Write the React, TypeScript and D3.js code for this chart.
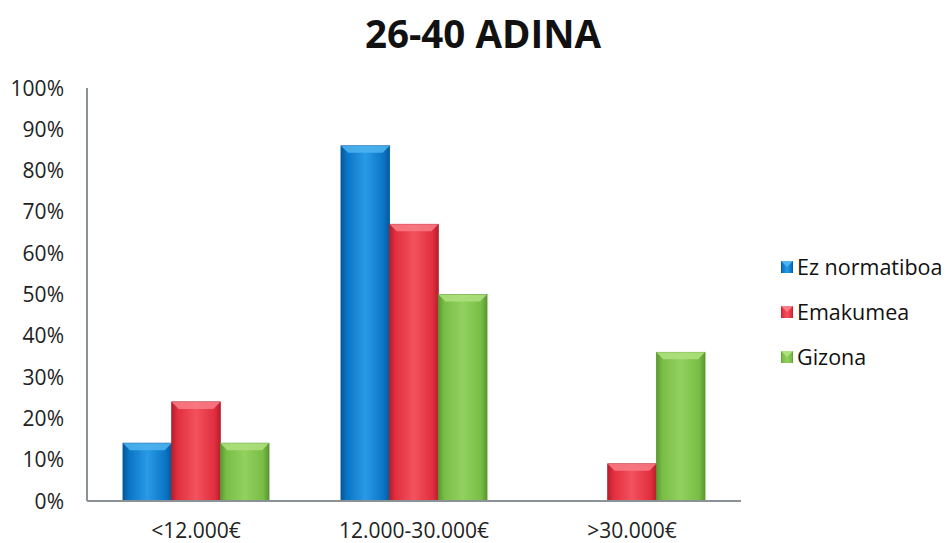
import React from "react";
import * as d3 from "d3";

const categories = ["<12.000€", "12.000-30.000€", ">30.000€"];
const seriesNames = ["Ez normatiboa", "Emakumea", "Gizona"];
const ezNormatiboa = [14, 86, 0];
const emakumea = [24, 67, 9];
const gizona = [14, 50, 36];
const yTicks = [0, 10, 20, 30, 40, 50, 60, 70, 80, 90, 100];
const seriesValues = [ezNormatiboa, emakumea, gizona];

const colors = [
  { base: "#0a74c4", light: "#2a9ae6", dark: "#05589a", top: "#4fb4f0" },
  { base: "#e22e3e", light: "#f2525e", dark: "#b51f2c", top: "#f87d86" },
  { base: "#78bd45", light: "#92d160", dark: "#5a9732", top: "#afe07f" },
];

export default function App() {
  const W = 949, H = 543;
  const left = 87, right = 741, top = 88, bottom = 501;
  const x0 = d3.scaleBand<string>().domain(categories).range([left, right]).paddingInner(0.33).paddingOuter(0.165);
  const x1 = d3.scaleBand<number>().domain([0, 1, 2]).range([0, x0.bandwidth()]).padding(0);
  const y = d3.scaleLinear().domain([0, 100]).range([bottom, top]);
  const font = "'Open Sans', 'Noto Sans', sans-serif";
  const bev = 7;

  return (
    <svg width={W} height={H} style={{ position: "absolute", left: 0, top: 0, background: "#fff" }}>
      <defs>
        {colors.map((c, i) => (
          <linearGradient key={i} id={`g${i}`} x1="0" x2="1" y1="0" y2="0">
            <stop offset="0" stopColor={c.dark} />
            <stop offset="0.12" stopColor={c.base} />
            <stop offset="0.5" stopColor={c.light} />
            <stop offset="0.88" stopColor={c.base} />
            <stop offset="1" stopColor={c.dark} />
          </linearGradient>
        ))}
      </defs>
      <text x={483} y={48} textAnchor="middle" fontFamily={font} fontWeight={700} fontSize={38.5} fill="#111">
        26-40 ADINA
      </text>
      {yTicks.map((t) => (
        <text key={t} x={64} y={y(t) + 7.5} textAnchor="end" fontFamily={font} fontSize={21} fill="#222">
          {t}%
        </text>
      ))}
      {categories.map((cat, ci) =>
        seriesValues.map((vals, si) => {
          const v = vals[ci];
          if (!v) return null;
          const bx = (x0(cat) as number) + (x1(si) as number);
          const bw = x1.bandwidth();
          const by = y(v);
          const bh = bottom - by;
          const c = colors[si];
          const b = Math.min(bev, bh / 2);
          return (
            <g key={`${ci}-${si}`}>
              <rect x={bx} y={by} width={bw} height={bh} fill={`url(#g${si})`} stroke={c.dark} strokeWidth={0.8} />
              <polygon
                points={`${bx},${by} ${bx + bw},${by} ${bx + bw - b},${by + b} ${bx + b},${by + b}`}
                fill={c.top}
                opacity={0.85}
              />
            </g>
          );
        })
      )}
      <line x1={left} x2={left} y1={top} y2={bottom} stroke="#8a9296" strokeWidth={2} />
      <line x1={left} x2={right} y1={bottom} y2={bottom} stroke="#8a9296" strokeWidth={2} />
      {categories.map((cat) => (
        <text key={cat} x={(x0(cat) as number) + x0.bandwidth() / 2} y={538} textAnchor="middle" fontFamily={font} fontSize={21} fill="#222">
          {cat}
        </text>
      ))}
      {seriesNames.map((n, i) => {
        const ly = 267 + i * 45;
        const c = colors[i];
        return (
          <g key={n}>
            <rect x={781} y={ly - 6} width={12} height={12} fill={`url(#g${i})`} />
            <polygon points={`${781},${ly - 6} ${793},${ly - 6} ${787},${ly}`} fill={c.top} />
            <text x={797} y={ly + 8} fontFamily={font} fontSize={21.5} fill="#111">
              {n}
            </text>
          </g>
        );
      })}
    </svg>
  );
}
